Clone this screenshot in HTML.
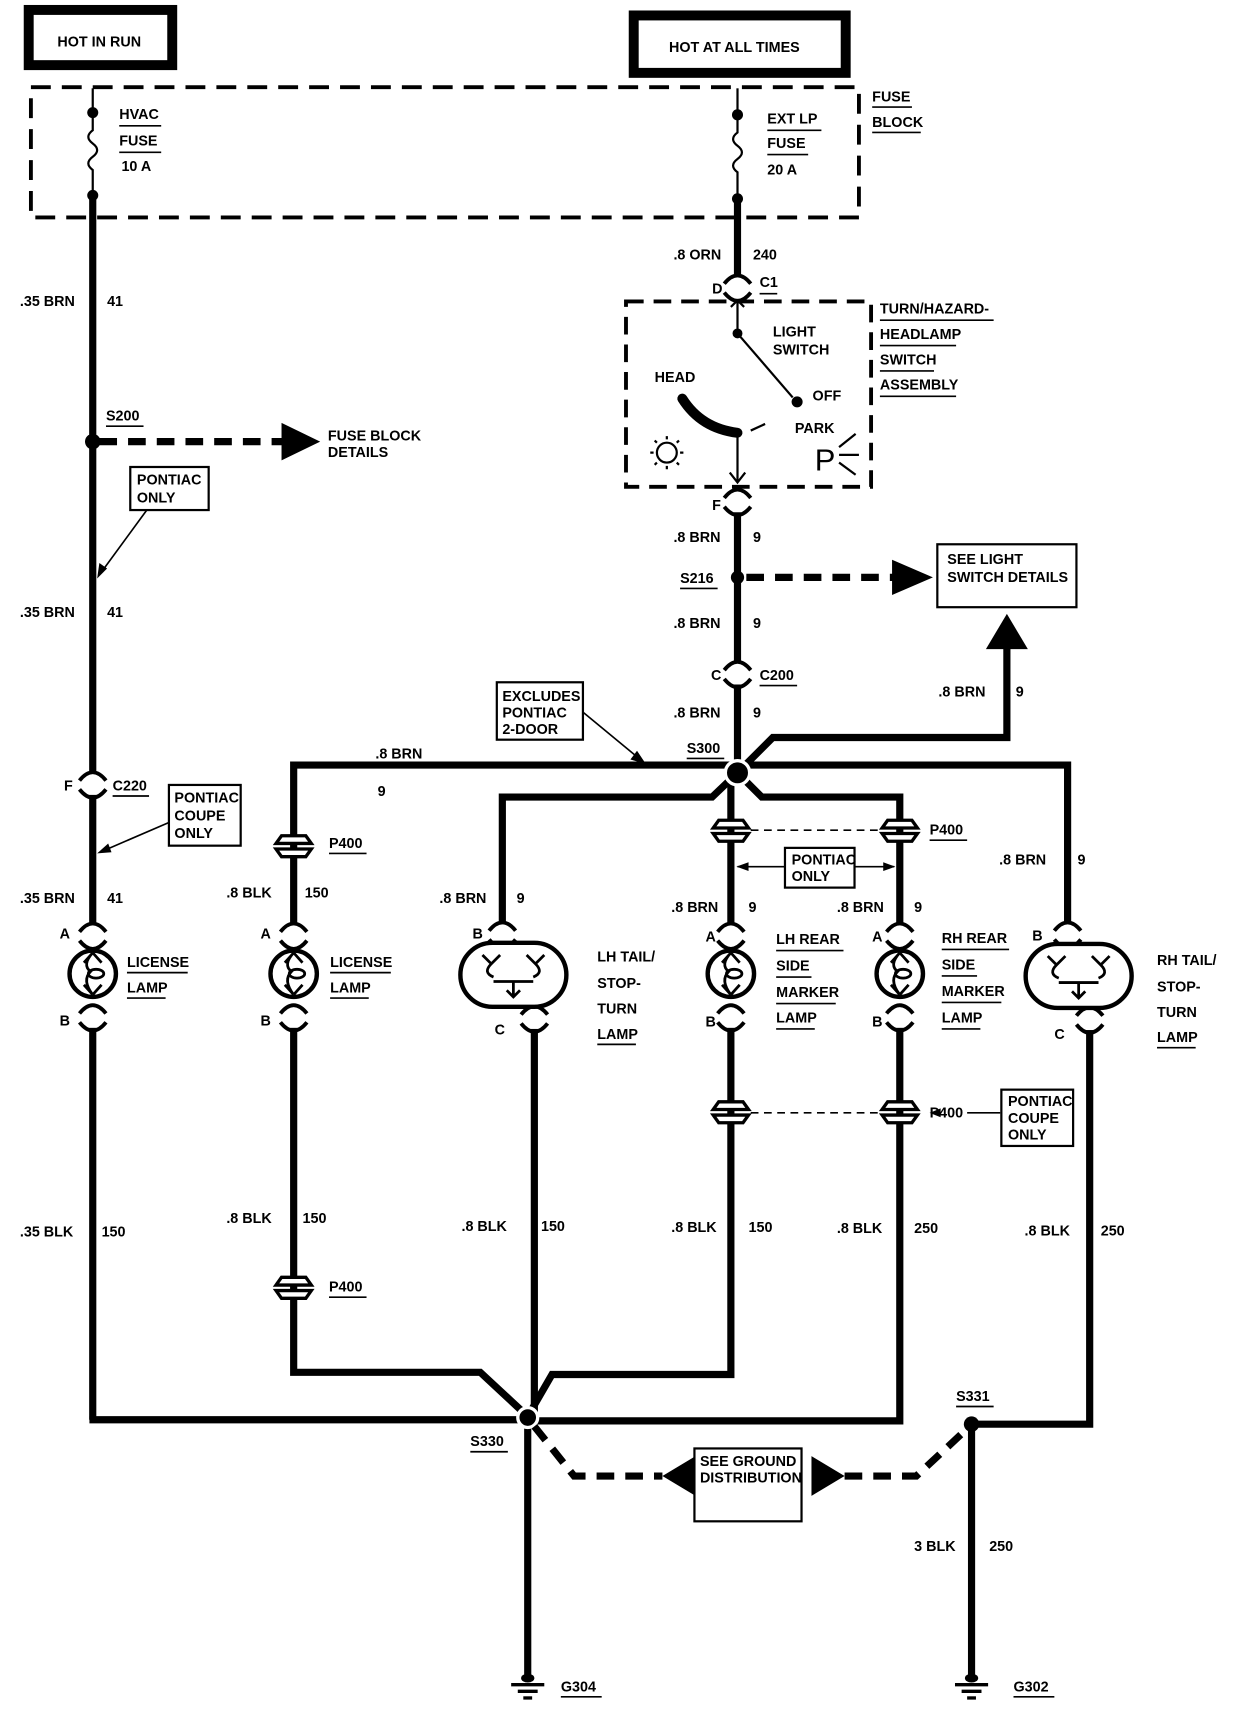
<!DOCTYPE html>
<html><head><meta charset="utf-8"><style>
html,body{margin:0;padding:0;background:#fff;}
svg{display:block;}
text{font-family:"Liberation Sans",sans-serif;font-weight:bold;font-size:13px;fill:#000;}
</style></head><body>
<svg width="1248" height="1726" viewBox="0 0 1130.4 1563.4" preserveAspectRatio="none" xmlns="http://www.w3.org/2000/svg">
<defs>
<g id="cn"><rect x="-5" y="-7" width="10" height="19" fill="#fff"/><path d="M-12,-1 Q0,-16 12,-1" fill="none" stroke="#000" stroke-width="3.5"/><path d="M-12,7 Q0,22 12,7" fill="none" stroke="#000" stroke-width="3.5"/></g>
<g id="lamp"><circle r="21" fill="#fff" stroke="#000" stroke-width="4"/><path d="M0,-19 L-8,-10 M0,-19 L8,-10 M0,-19 Q-10,-8 -2,-2 Q-10,6 0,19 M0,19 L-8,10 M0,19 L8,10" fill="none" stroke="#000" stroke-width="2.5"/><ellipse cx="3" cy="0" rx="7" ry="4" fill="none" stroke="#000" stroke-width="2.5"/></g>
<g id="p4"><path d="M-16,-2 L-11,-9 L11,-9 L16,-2 Z M-16,3 L-11,10 L11,10 L16,3 Z" fill="#fff" stroke="#000" stroke-width="3"/></g>
<g id="pill"><rect x="-48" y="-29" width="96" height="58" rx="29" fill="#fff" stroke="#000" stroke-width="4"/><path d="M-28,-18 L-20,-10 L-12,-18 M-20,-10 Q-28,-2 -18,2 M12,-18 L20,-10 L28,-18 M20,-10 Q28,-2 18,2 M-18,6 L0,6 L18,6 M0,6 L0,20 M-6,14 L0,20 L6,14" fill="none" stroke="#000" stroke-width="2.5"/></g>
<g id="gnd"><line x1="-15" y1="0" x2="15" y2="0" stroke="#000" stroke-width="3"/><line x1="-9" y1="6" x2="9" y2="6" stroke="#000" stroke-width="3"/><line x1="-4" y1="12" x2="4" y2="12" stroke="#000" stroke-width="3"/><ellipse cx="0" cy="-6" rx="6" ry="4" fill="#000"/></g>
</defs>

<rect x="26" y="9" width="130" height="50" fill="#fff" stroke="#000" stroke-width="9"/>
<text x="52" y="42">HOT IN RUN</text>
<rect x="574" y="14" width="192" height="52" fill="#fff" stroke="#000" stroke-width="9"/>
<text x="606" y="47">HOT AT ALL TIMES</text>

<rect x="28" y="79" width="750" height="118" fill="none" stroke="#000" stroke-width="3.5" stroke-dasharray="18,10"/>
<text x="790" y="92">FUSE</text><line x1="790" y1="97" x2="826" y2="97" stroke="#000" stroke-width="1.5"/>
<text x="790" y="115">BLOCK</text><line x1="790" y1="120" x2="834" y2="120" stroke="#000" stroke-width="1.5"/>
<line x1="84" y1="80" x2="84" y2="100" stroke="#000" stroke-width="2"/>
<circle cx="84" cy="102" r="5"/><circle cx="84" cy="177" r="5"/>
<path d="M84,102 L84,118 Q76,124 84,130 Q92,136 84,142 Q76,148 84,154 L84,177" fill="none" stroke="#000" stroke-width="2"/>
<text x="108" y="108">HVAC</text><line x1="108" y1="114" x2="146" y2="114" stroke="#000" stroke-width="1.5"/>
<text x="108" y="132">FUSE</text><line x1="108" y1="138" x2="146" y2="138" stroke="#000" stroke-width="1.5"/>
<text x="110" y="155">10 A</text>
<line x1="668" y1="80" x2="668" y2="102" stroke="#000" stroke-width="2"/>
<circle cx="668" cy="104" r="5"/><circle cx="668" cy="180" r="5"/>
<path d="M668,104 L668,120 Q660,126 668,132 Q676,138 668,144 Q660,150 668,156 L668,180" fill="none" stroke="#000" stroke-width="2"/>
<text x="695" y="112">EXT LP</text><line x1="695" y1="118" x2="744" y2="118" stroke="#000" stroke-width="1.5"/>
<text x="695" y="134">FUSE</text><line x1="695" y1="140" x2="732" y2="140" stroke="#000" stroke-width="1.5"/>
<text x="695" y="158">20 A</text>

<g stroke="#000" stroke-width="6.5" fill="none">
<line x1="84" y1="180" x2="84" y2="704"/>
<line x1="84" y1="718" x2="84" y2="840"/>
<line x1="84" y1="930" x2="84" y2="1286"/>
<line x1="81" y1="1286" x2="478" y2="1286"/>
<line x1="668" y1="180" x2="668" y2="256"/>
<line x1="668" y1="458" x2="668" y2="606"/>
<line x1="668" y1="618" x2="668" y2="700"/>
<polyline points="266,775 266,693 668,693 967,693 967,840"/>
<polyline points="668,700 645,722 455,722 455,840"/>
<polyline points="668,700 700,668 912,668 912,585"/>
<polyline points="668,700 690,722 815,722 815,840"/>
<line x1="662" y1="700" x2="662" y2="840"/>
<line x1="266" y1="775" x2="266" y2="840"/>
<polyline points="266,930 266,1243 435,1243 478,1283"/>
<polyline points="484,930 484,1283"/>
<polyline points="662,930 662,1245 500,1245 478,1283"/>
<polyline points="815,930 815,1287 478,1287"/>
<polyline points="987,930 987,1290 880,1290"/>
<line x1="478" y1="1283" x2="478" y2="1520"/>
<line x1="880" y1="1290" x2="880" y2="1520"/>
</g>

<use href="#cn" x="84" y="708"/>
<use href="#cn" x="668" y="258"/>
<use href="#cn" x="668" y="452"/>
<use href="#cn" x="668" y="608"/>
<text x="58" y="716">F</text><text x="102" y="716">C220</text><line x1="102" y1="721" x2="135" y2="721" stroke="#000" stroke-width="1.5"/>
<text x="645" y="266">D</text><text x="688" y="260">C1</text><line x1="688" y1="266" x2="704" y2="266" stroke="#000" stroke-width="1.5"/>
<text x="645" y="462">F</text>
<text x="644" y="616">C</text><text x="688" y="616">C200</text><line x1="688" y1="621" x2="722" y2="621" stroke="#000" stroke-width="1.5"/>

<text x="18" y="277">.35 BRN</text><text x="97" y="277">41</text>
<text x="18" y="559">.35 BRN</text><text x="97" y="559">41</text>
<text x="18" y="818">.35 BRN</text><text x="97" y="818">41</text>
<text x="18" y="1120">.35 BLK</text><text x="92" y="1120">150</text>
<text x="610" y="235">.8 ORN</text><text x="682" y="235">240</text>
<text x="610" y="491">.8 BRN</text><text x="682" y="491">9</text>
<text x="610" y="569">.8 BRN</text><text x="682" y="569">9</text>
<text x="610" y="650">.8 BRN</text><text x="682" y="650">9</text>
<text x="850" y="631">.8 BRN</text><text x="920" y="631">9</text>
<text x="340" y="687">.8 BRN</text><text x="342" y="721">9</text>
<text x="205" y="813">.8 BLK</text><text x="276" y="813">150</text>
<text x="205" y="1108">.8 BLK</text><text x="274" y="1108">150</text>
<text x="398" y="818">.8 BRN</text><text x="468" y="818">9</text>
<text x="418" y="1115">.8 BLK</text><text x="490" y="1115">150</text>
<text x="608" y="826">.8 BRN</text><text x="678" y="826">9</text>
<text x="608" y="1116">.8 BLK</text><text x="678" y="1116">150</text>
<text x="758" y="826">.8 BRN</text><text x="828" y="826">9</text>
<text x="758" y="1117">.8 BLK</text><text x="828" y="1117">250</text>
<text x="905" y="783">.8 BRN</text><text x="976" y="783">9</text>
<text x="928" y="1119">.8 BLK</text><text x="997" y="1119">250</text>
<text x="828" y="1405">3 BLK</text><text x="896" y="1405">250</text>

<circle cx="84" cy="400" r="7"/>
<text x="96" y="381">S200</text><line x1="96" y1="386" x2="130" y2="386" stroke="#000" stroke-width="1.5"/>
<line x1="90" y1="400" x2="258" y2="400" stroke="#000" stroke-width="6.5" stroke-dasharray="16,10"/>
<polygon points="255,383 290,400 255,417" fill="#000"/>
<text x="297" y="399">FUSE BLOCK</text><text x="297" y="414">DETAILS</text>

<rect x="118" y="423" width="71" height="39" fill="#fff" stroke="#000" stroke-width="2"/>
<text x="124" y="439">PONTIAC</text><text x="124" y="455">ONLY</text>
<line x1="133" y1="462" x2="92" y2="518" stroke="#000" stroke-width="1.5"/><polygon points="88,524 90,510 97,515" fill="#000"/>
<rect x="153" y="711" width="65" height="55" fill="#fff" stroke="#000" stroke-width="2"/>
<text x="158" y="727">PONTIAC</text><text x="158" y="743">COUPE</text><text x="158" y="759">ONLY</text>
<line x1="153" y1="745" x2="95" y2="770" stroke="#000" stroke-width="1.5"/><polygon points="88,773 98,764 101,772" fill="#000"/>
<rect x="450" y="618" width="78" height="52" fill="#fff" stroke="#000" stroke-width="2"/>
<text x="455" y="635">EXCLUDES</text><text x="455" y="650">PONTIAC</text><text x="455" y="665">2-DOOR</text>
<line x1="528" y1="645" x2="580" y2="688" stroke="#000" stroke-width="1.5"/><polygon points="585,692 571,688 577,680" fill="#000"/>

<rect x="567" y="273" width="222" height="168" fill="none" stroke="#000" stroke-width="3.5" stroke-dasharray="16,9"/>
<path d="M662,278 L668,272 L674,278 M668,272 L668,300" fill="none" stroke="#000" stroke-width="2"/>
<circle cx="668" cy="302" r="4.5"/>
<line x1="668" y1="302" x2="718" y2="360" stroke="#000" stroke-width="2"/>
<circle cx="722" cy="364" r="5"/>
<text x="700" y="305">LIGHT</text><text x="700" y="321">SWITCH</text>
<text x="593" y="346">HEAD</text><text x="736" y="363">OFF</text><text x="720" y="392">PARK</text>
<path d="M618,361 Q635,388 668,392" fill="none" stroke="#000" stroke-width="9" stroke-linecap="round"/>
<path d="M680,390 L693,384" stroke="#000" stroke-width="2"/>
<line x1="668" y1="392" x2="668" y2="436" stroke="#000" stroke-width="2"/>
<path d="M661,428 L668,437 L675,428" fill="none" stroke="#000" stroke-width="2"/>
<circle cx="604" cy="410" r="9" fill="none" stroke="#000" stroke-width="2"/>
<path d="M604,398 v-3 M604,422 v3 M592,410 h-3 M616,410 h3 M595,401 l-2,-2 M613,401 l2,-2 M595,419 l-2,2 M613,419 l2,2" stroke="#000" stroke-width="2"/>
<text x="738" y="426" style="font-weight:normal;font-size:28px">P</text>
<path d="M760,405 L775,393 M760,412 L778,412 M760,419 L775,430" stroke="#000" stroke-width="2"/>
<text x="797" y="284">TURN/HAZARD-</text><line x1="797" y1="290" x2="900" y2="290" stroke="#000" stroke-width="1.5"/>
<text x="797" y="307">HEADLAMP</text><line x1="797" y1="313" x2="866" y2="313" stroke="#000" stroke-width="1.5"/>
<text x="797" y="330">SWITCH</text><line x1="797" y1="336" x2="846" y2="336" stroke="#000" stroke-width="1.5"/>
<text x="797" y="353">ASSEMBLY</text><line x1="797" y1="359" x2="866" y2="359" stroke="#000" stroke-width="1.5"/>

<circle cx="668" cy="523" r="6"/>
<text x="616" y="528">S216</text><line x1="616" y1="533" x2="650" y2="533" stroke="#000" stroke-width="1.5"/>
<line x1="676" y1="523" x2="810" y2="523" stroke="#000" stroke-width="6.5" stroke-dasharray="16,10"/>
<polygon points="808,507 845,523 808,539" fill="#000"/>
<rect x="849" y="493" width="126" height="57" fill="#fff" stroke="#000" stroke-width="2"/>
<text x="858" y="511">SEE LIGHT</text><text x="858" y="527">SWITCH DETAILS</text>
<polygon points="893,588 912,556 931,588" fill="#000"/>

<circle cx="668" cy="700" r="11" fill="#000" stroke="#fff" stroke-width="3"/>
<text x="622" y="682">S300</text><line x1="622" y1="687" x2="656" y2="687" stroke="#000" stroke-width="1.5"/>

<use href="#p4" x="266" y="766"/><text x="298" y="768">P400</text><line x1="298" y1="773" x2="332" y2="773" stroke="#000" stroke-width="1.5"/>
<use href="#p4" x="266" y="1166"/><text x="298" y="1170">P400</text><line x1="298" y1="1175" x2="332" y2="1175" stroke="#000" stroke-width="1.5"/>
<line x1="680" y1="752" x2="800" y2="752" stroke="#000" stroke-width="1.5" stroke-dasharray="7,5"/>
<use href="#p4" x="662" y="752"/><use href="#p4" x="815" y="752"/>
<text x="842" y="756">P400</text><line x1="842" y1="761" x2="876" y2="761" stroke="#000" stroke-width="1.5"/>
<line x1="680" y1="1008" x2="800" y2="1008" stroke="#000" stroke-width="1.5" stroke-dasharray="7,5"/>
<use href="#p4" x="662" y="1007"/><use href="#p4" x="815" y="1007"/>
<text x="842" y="1012">P400</text>
<line x1="876" y1="1008" x2="906" y2="1008" stroke="#000" stroke-width="1.5"/><polygon points="842,1008 852,1004 852,1012" fill="#000"/>
<rect x="711" y="768" width="63" height="36" fill="#fff" stroke="#000" stroke-width="2"/>
<text x="717" y="783">PONTIAC</text><text x="717" y="798">ONLY</text>
<line x1="668" y1="785" x2="711" y2="785" stroke="#000" stroke-width="1.5"/><line x1="774" y1="785" x2="810" y2="785" stroke="#000" stroke-width="1.5"/>
<polygon points="667,785 678,781 678,789" fill="#000"/><polygon points="811,785 800,781 800,789" fill="#000"/>
<rect x="907" y="987" width="65" height="51" fill="#fff" stroke="#000" stroke-width="2"/>
<text x="913" y="1002">PONTIAC</text><text x="913" y="1017">COUPE</text><text x="913" y="1032">ONLY</text>

<use href="#cn" x="84" y="845"/><use href="#cn" x="84" y="919"/>
<use href="#lamp" x="84" y="882"/>
<text x="54" y="850">A</text><text x="54" y="929">B</text>
<text x="115" y="876">LICENSE</text><line x1="115" y1="881" x2="170" y2="881" stroke="#000" stroke-width="1.5"/>
<text x="115" y="899">LAMP</text><line x1="115" y1="904" x2="150" y2="904" stroke="#000" stroke-width="1.5"/>

<use href="#cn" x="266" y="845"/><use href="#cn" x="266" y="919"/>
<use href="#lamp" x="266" y="882"/>
<text x="236" y="850">A</text><text x="236" y="929">B</text>
<text x="299" y="876">LICENSE</text><line x1="299" y1="881" x2="354" y2="881" stroke="#000" stroke-width="1.5"/>
<text x="299" y="899">LAMP</text><line x1="299" y1="904" x2="334" y2="904" stroke="#000" stroke-width="1.5"/>

<use href="#cn" x="455" y="844"/><use href="#cn" x="484" y="920"/>
<use href="#pill" x="465" y="883"/>
<text x="428" y="850">B</text><text x="448" y="937">C</text>
<text x="541" y="871">LH TAIL/</text><text x="541" y="895">STOP-</text><text x="541" y="918">TURN</text>
<text x="541" y="941">LAMP</text><line x1="541" y1="946" x2="576" y2="946" stroke="#000" stroke-width="1.5"/>

<use href="#cn" x="662" y="845"/><use href="#cn" x="662" y="919"/>
<use href="#lamp" x="662" y="882"/>
<text x="639" y="853">A</text><text x="639" y="930">B</text>
<text x="703" y="855">LH REAR</text><line x1="703" y1="861" x2="764" y2="861" stroke="#000" stroke-width="1.5"/>
<text x="703" y="879">SIDE</text><line x1="703" y1="885" x2="735" y2="885" stroke="#000" stroke-width="1.5"/>
<text x="703" y="903">MARKER</text><line x1="703" y1="909" x2="757" y2="909" stroke="#000" stroke-width="1.5"/>
<text x="703" y="926">LAMP</text><line x1="703" y1="932" x2="738" y2="932" stroke="#000" stroke-width="1.5"/>

<use href="#cn" x="815" y="845"/><use href="#cn" x="815" y="919"/>
<use href="#lamp" x="815" y="882"/>
<text x="790" y="853">A</text><text x="790" y="930">B</text>
<text x="853" y="854">RH REAR</text><line x1="853" y1="860" x2="914" y2="860" stroke="#000" stroke-width="1.5"/>
<text x="853" y="878">SIDE</text><line x1="853" y1="884" x2="885" y2="884" stroke="#000" stroke-width="1.5"/>
<text x="853" y="902">MARKER</text><line x1="853" y1="908" x2="907" y2="908" stroke="#000" stroke-width="1.5"/>
<text x="853" y="926">LAMP</text><line x1="853" y1="932" x2="888" y2="932" stroke="#000" stroke-width="1.5"/>

<use href="#cn" x="967" y="844"/><use href="#cn" x="987" y="921"/>
<use href="#pill" x="977" y="884"/>
<text x="935" y="852">B</text><text x="955" y="941">C</text>
<text x="1048" y="874">RH TAIL/</text><text x="1048" y="898">STOP-</text><text x="1048" y="921">TURN</text>
<text x="1048" y="944">LAMP</text><line x1="1048" y1="949" x2="1083" y2="949" stroke="#000" stroke-width="1.5"/>

<circle cx="478" cy="1284" r="9" fill="#000" stroke="#fff" stroke-width="3"/>
<text x="426" y="1310">S330</text><line x1="426" y1="1315" x2="460" y2="1315" stroke="#000" stroke-width="1.5"/>
<circle cx="880" cy="1290" r="7"/>
<text x="866" y="1269">S331</text><line x1="866" y1="1274" x2="900" y2="1274" stroke="#000" stroke-width="1.5"/>
<polyline points="484,1292 520,1337 600,1337" fill="none" stroke="#000" stroke-width="6.5" stroke-dasharray="16,10"/>
<polygon points="600,1337 630,1319 630,1355" fill="#000"/>
<rect x="629" y="1312" width="97" height="66" fill="#fff" stroke="#000" stroke-width="2"/>
<text x="634" y="1328">SEE GROUND</text><text x="634" y="1343">DISTRIBUTION</text>
<polygon points="765,1337 735,1319 735,1355" fill="#000"/>
<polyline points="765,1337 830,1337 874,1296" fill="none" stroke="#000" stroke-width="6.5" stroke-dasharray="16,10"/>
<use href="#gnd" x="478" y="1526"/><text x="508" y="1532">G304</text><line x1="508" y1="1537" x2="545" y2="1537" stroke="#000" stroke-width="1.5"/>
<use href="#gnd" x="880" y="1526"/><text x="918" y="1532">G302</text><line x1="918" y1="1537" x2="955" y2="1537" stroke="#000" stroke-width="1.5"/>
</svg>
</body></html>
